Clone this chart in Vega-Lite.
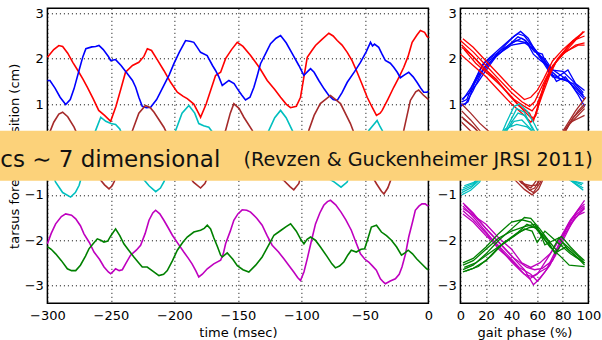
{
"$schema": "https://vega.github.io/schema/vega-lite/v6.json",
"autosize": {"type": "none"},
"padding": {"left": 47.4, "top": 8.3, "right": 554.6, "bottom": 331.7},
"background": "white",
"config": {
  "view": {"stroke": "#000", "strokeWidth": 1.5},
  "axis": {"domain": false, "ticks": false, "grid": true, "gridColor": "#000", "gridDash": [1, 3], "gridWidth": 1, "gridOpacity": 1,
    "labelFont": "DejaVu Sans", "labelFontSize": 13, "labelColor": "#000", "titleFont": "DejaVu Sans", "titleFontSize": 13, "titleFontWeight": "normal", "titleColor": "#000",
    "labelFlush": false, "labelOverlap": false, "labelBound": false},
  "axisX": {"labelPadding": 6, "titlePadding": 4.5},
  "axisY": {"labelPadding": 4, "titlePadding": 5}
},
"datasets": {
"L": [
{"c":"r","t":-300,"v":2.03},{"c":"r","t":-295,"v":2.2},{"c":"r","t":-291,"v":2.29},{"c":"r","t":-288,"v":2.27},{"c":"r","t":-284,"v":2.12},{"c":"r","t":-280,"v":1.92},{"c":"r","t":-276,"v":1.74},{"c":"r","t":-272,"v":1.55},{"c":"r","t":-268.5,"v":1.37},{"c":"r","t":-264,"v":1.12},{"c":"r","t":-259.6,"v":0.86},{"c":"r","t":-255,"v":0.75},{"c":"r","t":-250.2,"v":0.62},{"c":"r","t":-246,"v":0.95},{"c":"r","t":-242,"v":1.35},{"c":"r","t":-238.5,"v":1.7},{"c":"r","t":-233,"v":1.85},{"c":"r","t":-228,"v":1.92},{"c":"r","t":-224,"v":2.05},{"c":"r","t":-221.3,"v":2.22},{"c":"r","t":-218,"v":2.18},{"c":"r","t":-214,"v":2.0},{"c":"r","t":-208.3,"v":1.74},{"c":"r","t":-203,"v":1.48},{"c":"r","t":-197.7,"v":1.26},{"c":"r","t":-193,"v":1.17},{"c":"r","t":-189.9,"v":1.12},{"c":"r","t":-184.7,"v":1.0},{"c":"r","t":-181,"v":0.8},{"c":"r","t":-179.4,"v":0.71},{"c":"r","t":-175,"v":1.0},{"c":"r","t":-171.5,"v":1.3},{"c":"r","t":-167.6,"v":1.63},{"c":"r","t":-163.6,"v":1.7},{"c":"r","t":-159.7,"v":2.0},{"c":"r","t":-155,"v":2.2},{"c":"r","t":-150.5,"v":2.36},{"c":"r","t":-146,"v":2.27},{"c":"r","t":-140,"v":2.07},{"c":"r","t":-133,"v":1.8},{"c":"r","t":-126.9,"v":1.52},{"c":"r","t":-121,"v":1.32},{"c":"r","t":-116.4,"v":1.15},{"c":"r","t":-112,"v":1.0},{"c":"r","t":-108.6,"v":0.92},{"c":"r","t":-104,"v":0.95},{"c":"r","t":-100.7,"v":1.15},{"c":"r","t":-98,"v":1.6},{"c":"r","t":-95.4,"v":2.03},{"c":"r","t":-92,"v":2.17},{"c":"r","t":-88.9,"v":2.29},{"c":"r","t":-84,"v":2.42},{"c":"r","t":-78.4,"v":2.56},{"c":"r","t":-75,"v":2.5},{"c":"r","t":-71.8,"v":2.4},{"c":"r","t":-68,"v":2.3},{"c":"r","t":-63.9,"v":2.14},{"c":"r","t":-60,"v":1.95},{"c":"r","t":-56.1,"v":1.7},{"c":"r","t":-52,"v":1.42},{"c":"r","t":-48.2,"v":1.15},{"c":"r","t":-44.3,"v":0.93},{"c":"r","t":-40.9,"v":0.75},{"c":"r","t":-38,"v":0.8},{"c":"r","t":-36.4,"v":0.86},{"c":"r","t":-32,"v":1.1},{"c":"r","t":-27.3,"v":1.37},{"c":"r","t":-23,"v":1.6},{"c":"r","t":-19.4,"v":1.81},{"c":"r","t":-16,"v":2.05},{"c":"r","t":-12.8,"v":2.36},{"c":"r","t":-9,"v":2.52},{"c":"r","t":-6.3,"v":2.62},{"c":"r","t":-3,"v":2.58},{"c":"r","t":-1.1,"v":2.49},{"c":"r","t":0,"v":2.46},
{"c":"b","t":-300,"v":1.52},{"c":"b","t":-298,"v":1.52},{"c":"b","t":-294,"v":1.35},{"c":"b","t":-290,"v":1.15},{"c":"b","t":-285.6,"v":0.99},{"c":"b","t":-282,"v":1.1},{"c":"b","t":-279,"v":1.34},{"c":"b","t":-275,"v":1.75},{"c":"b","t":-272,"v":2.05},{"c":"b","t":-269.7,"v":2.22},{"c":"b","t":-265,"v":2.26},{"c":"b","t":-262,"v":2.27},{"c":"b","t":-259.4,"v":2.29},{"c":"b","t":-256,"v":2.2},{"c":"b","t":-252,"v":2.05},{"c":"b","t":-250.2,"v":1.96},{"c":"b","t":-246.3,"v":1.98},{"c":"b","t":-242,"v":1.85},{"c":"b","t":-237,"v":1.67},{"c":"b","t":-233,"v":1.52},{"c":"b","t":-230.5,"v":1.37},{"c":"b","t":-228,"v":1.15},{"c":"b","t":-225.3,"v":0.95},{"c":"b","t":-222,"v":0.92},{"c":"b","t":-218.7,"v":0.93},{"c":"b","t":-214,"v":1.1},{"c":"b","t":-208.3,"v":1.41},{"c":"b","t":-204,"v":1.65},{"c":"b","t":-200.4,"v":1.89},{"c":"b","t":-196,"v":2.15},{"c":"b","t":-191.2,"v":2.4},{"c":"b","t":-187,"v":2.38},{"c":"b","t":-184.7,"v":2.36},{"c":"b","t":-182,"v":2.25},{"c":"b","t":-179.4,"v":2.14},{"c":"b","t":-174.2,"v":2.07},{"c":"b","t":-170,"v":1.85},{"c":"b","t":-167.6,"v":1.74},{"c":"b","t":-165,"v":1.6},{"c":"b","t":-162.3,"v":1.41},{"c":"b","t":-157.1,"v":1.52},{"c":"b","t":-153,"v":1.45},{"c":"b","t":-150.5,"v":1.34},{"c":"b","t":-147,"v":1.2},{"c":"b","t":-144,"v":1.09},{"c":"b","t":-140.5,"v":1.15},{"c":"b","t":-137.4,"v":1.37},{"c":"b","t":-135,"v":1.6},{"c":"b","t":-132.2,"v":1.89},{"c":"b","t":-128,"v":2.12},{"c":"b","t":-124.3,"v":2.33},{"c":"b","t":-120,"v":2.45},{"c":"b","t":-116.4,"v":2.51},{"c":"b","t":-112,"v":2.35},{"c":"b","t":-107.2,"v":2.11},{"c":"b","t":-102,"v":1.85},{"c":"b","t":-98.1,"v":1.63},{"c":"b","t":-95,"v":1.72},{"c":"b","t":-92.8,"v":1.78},{"c":"b","t":-90,"v":1.7},{"c":"b","t":-86.3,"v":1.52},{"c":"b","t":-82,"v":1.33},{"c":"b","t":-78.4,"v":1.19},{"c":"b","t":-75,"v":1.1},{"c":"b","t":-71.8,"v":1.08},{"c":"b","t":-68,"v":1.25},{"c":"b","t":-63.9,"v":1.48},{"c":"b","t":-58,"v":1.72},{"c":"b","t":-53.5,"v":1.92},{"c":"b","t":-49,"v":2.15},{"c":"b","t":-45.6,"v":2.36},{"c":"b","t":-44,"v":2.28},{"c":"b","t":-42.5,"v":2.32},{"c":"b","t":-39.1,"v":2.25},{"c":"b","t":-36.5,"v":2.1},{"c":"b","t":-33.9,"v":1.96},{"c":"b","t":-30,"v":1.9},{"c":"b","t":-27.3,"v":1.81},{"c":"b","t":-24.5,"v":1.7},{"c":"b","t":-22.1,"v":1.58},{"c":"b","t":-18.5,"v":1.65},{"c":"b","t":-15.5,"v":1.7},{"c":"b","t":-12,"v":1.6},{"c":"b","t":-9,"v":1.48},{"c":"b","t":-6,"v":1.35},{"c":"b","t":-3.7,"v":1.26},{"c":"b","t":-1.1,"v":1.26},{"c":"b","t":0,"v":1.28},
{"c":"br","t":-300,"v":0.25},{"c":"br","t":-295,"v":0.6},{"c":"br","t":-291,"v":0.78},{"c":"br","t":-288,"v":0.82},{"c":"br","t":-284,"v":0.72},{"c":"br","t":-279,"v":0.49},{"c":"br","t":-272,"v":0.05},{"c":"br","t":-265,"v":-0.4},{"c":"br","t":-258,"v":-0.68},{"c":"br","t":-255,"v":-0.78},{"c":"br","t":-251.5,"v":-0.87},{"c":"br","t":-249,"v":-0.8},{"c":"br","t":-247.6,"v":-0.72},{"c":"br","t":-242,"v":-0.35},{"c":"br","t":-236,"v":0.15},{"c":"br","t":-233,"v":0.42},{"c":"br","t":-228,"v":0.8},{"c":"br","t":-222.8,"v":0.97},{"c":"br","t":-219,"v":0.92},{"c":"br","t":-216,"v":0.82},{"c":"br","t":-208.3,"v":0.49},{"c":"br","t":-200,"v":0.0},{"c":"br","t":-192,"v":-0.45},{"c":"br","t":-185,"v":-0.72},{"c":"br","t":-179.4,"v":-0.85},{"c":"br","t":-176,"v":-0.75},{"c":"br","t":-172,"v":-0.5},{"c":"br","t":-166,"v":-0.05},{"c":"br","t":-159.7,"v":0.42},{"c":"br","t":-156,"v":0.8},{"c":"br","t":-153.2,"v":1.01},{"c":"br","t":-149,"v":0.9},{"c":"br","t":-145.3,"v":0.71},{"c":"br","t":-138.7,"v":0.42},{"c":"br","t":-131,"v":-0.1},{"c":"br","t":-122,"v":-0.5},{"c":"br","t":-114,"v":-0.68},{"c":"br","t":-109,"v":-0.82},{"c":"br","t":-106,"v":-0.89},{"c":"br","t":-102,"v":-0.75},{"c":"br","t":-98,"v":-0.3},{"c":"br","t":-94.2,"v":0.42},{"c":"br","t":-90,"v":0.75},{"c":"br","t":-85.1,"v":1.01},{"c":"br","t":-77.1,"v":1.19},{"c":"br","t":-69.2,"v":1.01},{"c":"br","t":-61.4,"v":0.57},{"c":"br","t":-55,"v":0.1},{"c":"br","t":-48,"v":-0.4},{"c":"br","t":-41,"v":-0.75},{"c":"br","t":-37,"v":-0.92},{"c":"br","t":-35,"v":-0.98},{"c":"br","t":-32,"v":-0.85},{"c":"br","t":-28,"v":-0.55},{"c":"br","t":-24,"v":-0.1},{"c":"br","t":-19.4,"v":0.42},{"c":"br","t":-14.2,"v":1.08},{"c":"br","t":-10,"v":1.27},{"c":"br","t":-7.7,"v":1.31},{"c":"br","t":-4,"v":1.2},{"c":"br","t":0,"v":1.1},
{"c":"c","t":-300,"v":-0.3},{"c":"c","t":-296,"v":-0.55},{"c":"c","t":-293.5,"v":-0.72},{"c":"c","t":-288,"v":-0.95},{"c":"c","t":-281.7,"v":-1.05},{"c":"c","t":-278,"v":-0.95},{"c":"c","t":-275,"v":-0.79},{"c":"c","t":-270,"v":-0.3},{"c":"c","t":-265,"v":0.2},{"c":"c","t":-262,"v":0.42},{"c":"c","t":-258,"v":0.71},{"c":"c","t":-254,"v":0.62},{"c":"c","t":-250,"v":0.57},{"c":"c","t":-246.3,"v":0.55},{"c":"c","t":-243,"v":0.45},{"c":"c","t":-238,"v":0.1},{"c":"c","t":-232,"v":-0.3},{"c":"c","t":-226,"v":-0.6},{"c":"c","t":-220,"v":-0.8},{"c":"c","t":-214.7,"v":-0.93},{"c":"c","t":-211,"v":-0.85},{"c":"c","t":-208,"v":-0.7},{"c":"c","t":-203,"v":-0.1},{"c":"c","t":-199,"v":0.42},{"c":"c","t":-194,"v":0.8},{"c":"c","t":-188.6,"v":0.97},{"c":"c","t":-184,"v":0.8},{"c":"c","t":-180.8,"v":0.57},{"c":"c","t":-177,"v":0.52},{"c":"c","t":-172.9,"v":0.49},{"c":"c","t":-170,"v":0.38},{"c":"c","t":-164,"v":0.0},{"c":"c","t":-157,"v":-0.4},{"c":"c","t":-150,"v":-0.6},{"c":"c","t":-143,"v":-0.5},{"c":"c","t":-136,"v":-0.15},{"c":"c","t":-130,"v":0.2},{"c":"c","t":-125.6,"v":0.42},{"c":"c","t":-121,"v":0.7},{"c":"c","t":-116.4,"v":0.86},{"c":"c","t":-112,"v":0.7},{"c":"c","t":-107.2,"v":0.42},{"c":"c","t":-100,"v":-0.05},{"c":"c","t":-90,"v":-0.45},{"c":"c","t":-80,"v":-0.62},{"c":"c","t":-74,"v":-0.72},{"c":"c","t":-68.8,"v":-0.83},{"c":"c","t":-64,"v":-0.72},{"c":"c","t":-58,"v":-0.3},{"c":"c","t":-52,"v":0.1},{"c":"c","t":-46.9,"v":0.42},{"c":"c","t":-43,"v":0.55},{"c":"c","t":-40.4,"v":0.64},{"c":"c","t":-38,"v":0.5},{"c":"c","t":-36.4,"v":0.42},{"c":"c","t":-30,"v":0.0},{"c":"c","t":-20,"v":-0.4},{"c":"c","t":-10,"v":-0.6},{"c":"c","t":0,"v":-0.65},
{"c":"m","t":-300,"v":-2.08},{"c":"m","t":-297,"v":-1.85},{"c":"m","t":-293.5,"v":-1.64},{"c":"m","t":-289,"v":-1.48},{"c":"m","t":-285.6,"v":-1.42},{"c":"m","t":-281,"v":-1.45},{"c":"m","t":-277.7,"v":-1.53},{"c":"m","t":-274,"v":-1.68},{"c":"m","t":-271.2,"v":-1.86},{"c":"m","t":-267,"v":-2.05},{"c":"m","t":-263.3,"v":-2.26},{"c":"m","t":-259,"v":-2.42},{"c":"m","t":-255.4,"v":-2.59},{"c":"m","t":-252,"v":-2.7},{"c":"m","t":-250.2,"v":-2.74},{"c":"m","t":-248,"v":-2.68},{"c":"m","t":-246.3,"v":-2.63},{"c":"m","t":-243.5,"v":-2.67},{"c":"m","t":-241,"v":-2.65},{"c":"m","t":-238,"v":-2.5},{"c":"m","t":-234.5,"v":-2.33},{"c":"m","t":-230,"v":-2.22},{"c":"m","t":-226.6,"v":-2.11},{"c":"m","t":-223,"v":-1.85},{"c":"m","t":-220,"v":-1.56},{"c":"m","t":-217,"v":-1.4},{"c":"m","t":-214.8,"v":-1.34},{"c":"m","t":-211.5,"v":-1.42},{"c":"m","t":-208.3,"v":-1.56},{"c":"m","t":-205,"v":-1.72},{"c":"m","t":-201.6,"v":-1.89},{"c":"m","t":-197,"v":-2.08},{"c":"m","t":-192.6,"v":-2.26},{"c":"m","t":-189,"v":-2.4},{"c":"m","t":-186.1,"v":-2.52},{"c":"m","t":-183,"v":-2.68},{"c":"m","t":-180.8,"v":-2.81},{"c":"m","t":-178,"v":-2.75},{"c":"m","t":-174.1,"v":-2.63},{"c":"m","t":-169,"v":-2.52},{"c":"m","t":-163.6,"v":-2.44},{"c":"m","t":-161.5,"v":-2.3},{"c":"m","t":-159.7,"v":-2.08},{"c":"m","t":-156,"v":-1.8},{"c":"m","t":-153.2,"v":-1.56},{"c":"m","t":-150,"v":-1.42},{"c":"m","t":-146.6,"v":-1.33},{"c":"m","t":-143,"v":-1.34},{"c":"m","t":-140,"v":-1.38},{"c":"m","t":-135,"v":-1.52},{"c":"m","t":-130.9,"v":-1.67},{"c":"m","t":-127,"v":-1.9},{"c":"m","t":-123,"v":-2.11},{"c":"m","t":-118,"v":-2.26},{"c":"m","t":-113.8,"v":-2.41},{"c":"m","t":-110,"v":-2.55},{"c":"m","t":-106,"v":-2.7},{"c":"m","t":-103,"v":-2.82},{"c":"m","t":-100.7,"v":-2.89},{"c":"m","t":-98,"v":-2.7},{"c":"m","t":-95.4,"v":-2.41},{"c":"m","t":-92,"v":-2.0},{"c":"m","t":-88.9,"v":-1.64},{"c":"m","t":-85.5,"v":-1.4},{"c":"m","t":-82.4,"v":-1.23},{"c":"m","t":-79.5,"v":-1.15},{"c":"m","t":-77.1,"v":-1.12},{"c":"m","t":-73,"v":-1.22},{"c":"m","t":-68.8,"v":-1.38},{"c":"m","t":-65,"v":-1.55},{"c":"m","t":-60.7,"v":-1.78},{"c":"m","t":-57,"v":-2.05},{"c":"m","t":-53.5,"v":-2.3},{"c":"m","t":-50,"v":-2.42},{"c":"m","t":-47,"v":-2.48},{"c":"m","t":-44.3,"v":-2.56},{"c":"m","t":-41,"v":-2.66},{"c":"m","t":-37.8,"v":-2.85},{"c":"m","t":-35.5,"v":-2.92},{"c":"m","t":-33.9,"v":-2.96},{"c":"m","t":-30,"v":-2.9},{"c":"m","t":-26,"v":-2.85},{"c":"m","t":-23,"v":-2.75},{"c":"m","t":-20.8,"v":-2.59},{"c":"m","t":-18,"v":-2.3},{"c":"m","t":-15.5,"v":-1.93},{"c":"m","t":-12.5,"v":-1.6},{"c":"m","t":-10.3,"v":-1.34},{"c":"m","t":-7.5,"v":-1.25},{"c":"m","t":-5.1,"v":-1.2},{"c":"m","t":-2.5,"v":-1.2},{"c":"m","t":-1.1,"v":-1.23},{"c":"m","t":0,"v":-1.25},
{"c":"g","t":-300,"v":-2.14},{"c":"g","t":-297,"v":-2.2},{"c":"g","t":-293.5,"v":-2.3},{"c":"g","t":-289,"v":-2.45},{"c":"g","t":-284.3,"v":-2.63},{"c":"g","t":-281,"v":-2.67},{"c":"g","t":-277.7,"v":-2.67},{"c":"g","t":-274,"v":-2.55},{"c":"g","t":-270,"v":-2.35},{"c":"g","t":-267.3,"v":-2.19},{"c":"g","t":-264,"v":-2.08},{"c":"g","t":-260.7,"v":-1.97},{"c":"g","t":-258,"v":-2.0},{"c":"g","t":-255.5,"v":-2.04},{"c":"g","t":-252.5,"v":-2.02},{"c":"g","t":-250,"v":-1.9},{"c":"g","t":-246.3,"v":-1.75},{"c":"g","t":-243,"v":-1.9},{"c":"g","t":-239.8,"v":-2.08},{"c":"g","t":-236,"v":-2.22},{"c":"g","t":-231.9,"v":-2.37},{"c":"g","t":-228,"v":-2.5},{"c":"g","t":-225.3,"v":-2.59},{"c":"g","t":-221.4,"v":-2.59},{"c":"g","t":-217,"v":-2.68},{"c":"g","t":-212.2,"v":-2.78},{"c":"g","t":-208.5,"v":-2.75},{"c":"g","t":-205.6,"v":-2.67},{"c":"g","t":-201.5,"v":-2.45},{"c":"g","t":-197.7,"v":-2.22},{"c":"g","t":-193.5,"v":-2.05},{"c":"g","t":-189.9,"v":-1.93},{"c":"g","t":-184.7,"v":-1.82},{"c":"g","t":-179.4,"v":-1.78},{"c":"g","t":-176.5,"v":-1.74},{"c":"g","t":-174.1,"v":-1.67},{"c":"g","t":-171.5,"v":-1.75},{"c":"g","t":-168.9,"v":-1.95},{"c":"g","t":-166,"v":-2.15},{"c":"g","t":-163.6,"v":-2.33},{"c":"g","t":-162.3,"v":-2.37},{"c":"g","t":-158.4,"v":-2.28},{"c":"g","t":-154,"v":-2.42},{"c":"g","t":-150.5,"v":-2.56},{"c":"g","t":-146,"v":-2.65},{"c":"g","t":-141.4,"v":-2.7},{"c":"g","t":-136,"v":-2.55},{"c":"g","t":-130.9,"v":-2.37},{"c":"g","t":-126,"v":-2.12},{"c":"g","t":-121.6,"v":-1.89},{"c":"g","t":-116,"v":-1.78},{"c":"g","t":-112,"v":-1.7},{"c":"g","t":-108.5,"v":-1.64},{"c":"g","t":-104,"v":-1.8},{"c":"g","t":-100.5,"v":-1.98},{"c":"g","t":-98,"v":-2.08},{"c":"g","t":-95.5,"v":-1.98},{"c":"g","t":-92.8,"v":-1.93},{"c":"g","t":-89,"v":-2.0},{"c":"g","t":-85,"v":-2.15},{"c":"g","t":-80,"v":-2.35},{"c":"g","t":-76,"v":-2.52},{"c":"g","t":-73.2,"v":-2.61},{"c":"g","t":-70,"v":-2.57},{"c":"g","t":-66.6,"v":-2.48},{"c":"g","t":-63.5,"v":-2.33},{"c":"g","t":-60.7,"v":-2.22},{"c":"g","t":-56.8,"v":-2.26},{"c":"g","t":-53,"v":-2.2},{"c":"g","t":-50.2,"v":-2.19},{"c":"g","t":-47.5,"v":-1.95},{"c":"g","t":-44.9,"v":-1.71},{"c":"g","t":-40.9,"v":-1.67},{"c":"g","t":-37,"v":-1.82},{"c":"g","t":-33,"v":-1.9},{"c":"g","t":-29.1,"v":-2.0},{"c":"g","t":-25,"v":-2.15},{"c":"g","t":-21.2,"v":-2.33},{"c":"g","t":-18.5,"v":-2.28},{"c":"g","t":-15.9,"v":-2.22},{"c":"g","t":-12.5,"v":-2.3},{"c":"g","t":-9.3,"v":-2.41},{"c":"g","t":-5,"v":-2.53},{"c":"g","t":-1.4,"v":-2.63},{"c":"g","t":0,"v":-2.65}
],
"R": [
{"c":"b","s":1,"p":1,"v":1.05},{"c":"b","s":1,"p":5,"v":1.1},{"c":"b","s":1,"p":10,"v":1.45},{"c":"b","s":1,"p":15,"v":1.75},{"c":"b","s":1,"p":20,"v":1.95},{"c":"b","s":1,"p":30,"v":2.2},{"c":"b","s":1,"p":40,"v":2.45},{"c":"b","s":1,"p":45,"v":2.55},{"c":"b","s":1,"p":50,"v":2.5},{"c":"b","s":1,"p":60,"v":2.15},{"c":"b","s":1,"p":70,"v":1.8},{"c":"b","s":1,"p":80,"v":1.6},{"c":"b","s":1,"p":90,"v":1.35},{"c":"b","s":1,"p":97,"v":1.15},
{"c":"b","s":2,"p":0,"v":1.0},{"c":"b","s":2,"p":4,"v":1.0},{"c":"b","s":2,"p":10,"v":1.3},{"c":"b","s":2,"p":15,"v":1.6},{"c":"b","s":2,"p":20,"v":1.85},{"c":"b","s":2,"p":30,"v":2.1},{"c":"b","s":2,"p":40,"v":2.35},{"c":"b","s":2,"p":48,"v":2.45},{"c":"b","s":2,"p":55,"v":2.3},{"c":"b","s":2,"p":62,"v":2.05},{"c":"b","s":2,"p":70,"v":1.75},{"c":"b","s":2,"p":78,"v":1.55},{"c":"b","s":2,"p":85,"v":1.5},{"c":"b","s":2,"p":92,"v":1.2},{"c":"b","s":2,"p":97,"v":0.95},
{"c":"b","s":3,"p":2,"v":1.1},{"c":"b","s":3,"p":8,"v":1.35},{"c":"b","s":3,"p":14,"v":1.65},{"c":"b","s":3,"p":20,"v":1.8},{"c":"b","s":3,"p":30,"v":2.15},{"c":"b","s":3,"p":42,"v":2.5},{"c":"b","s":3,"p":47,"v":2.6},{"c":"b","s":3,"p":53,"v":2.45},{"c":"b","s":3,"p":60,"v":2.1},{"c":"b","s":3,"p":66,"v":2.0},{"c":"b","s":3,"p":72,"v":1.75},{"c":"b","s":3,"p":80,"v":1.72},{"c":"b","s":3,"p":88,"v":1.5},{"c":"b","s":3,"p":96,"v":1.25},
{"c":"b","s":4,"p":0,"v":0.95},{"c":"b","s":4,"p":6,"v":1.05},{"c":"b","s":4,"p":12,"v":1.55},{"c":"b","s":4,"p":18,"v":1.9},{"c":"b","s":4,"p":25,"v":2.05},{"c":"b","s":4,"p":35,"v":2.25},{"c":"b","s":4,"p":44,"v":2.4},{"c":"b","s":4,"p":52,"v":2.35},{"c":"b","s":4,"p":58,"v":2.15},{"c":"b","s":4,"p":64,"v":2.1},{"c":"b","s":4,"p":70,"v":1.65},{"c":"b","s":4,"p":76,"v":1.6},{"c":"b","s":4,"p":84,"v":1.75},{"c":"b","s":4,"p":90,"v":1.45},{"c":"b","s":4,"p":97,"v":1.3},
{"c":"b","s":5,"p":1,"v":1.1},{"c":"b","s":5,"p":7,"v":1.25},{"c":"b","s":5,"p":13,"v":1.45},{"c":"b","s":5,"p":20,"v":1.75},{"c":"b","s":5,"p":28,"v":2.05},{"c":"b","s":5,"p":38,"v":2.3},{"c":"b","s":5,"p":45,"v":2.48},{"c":"b","s":5,"p":51,"v":2.4},{"c":"b","s":5,"p":57,"v":2.1},{"c":"b","s":5,"p":63,"v":1.95},{"c":"b","s":5,"p":68,"v":1.85},{"c":"b","s":5,"p":75,"v":1.5},{"c":"b","s":5,"p":82,"v":1.6},{"c":"b","s":5,"p":90,"v":1.3},{"c":"b","s":5,"p":97,"v":1.1},
{"c":"b","s":6,"p":10,"v":1.4},{"c":"b","s":6,"p":15,"v":1.65},{"c":"b","s":6,"p":22,"v":1.95},{"c":"b","s":6,"p":32,"v":2.15},{"c":"b","s":6,"p":40,"v":2.3},{"c":"b","s":6,"p":50,"v":2.35},{"c":"b","s":6,"p":58,"v":2.2},{"c":"b","s":6,"p":65,"v":1.9},{"c":"b","s":6,"p":72,"v":1.6},{"c":"b","s":6,"p":80,"v":1.55},{"c":"b","s":6,"p":88,"v":1.45},{"c":"b","s":6,"p":96,"v":1.2},
{"c":"r","s":1,"p":2,"v":2.44},{"c":"r","s":1,"p":10,"v":2.25},{"c":"r","s":1,"p":20,"v":1.95},{"c":"r","s":1,"p":30,"v":1.65},{"c":"r","s":1,"p":40,"v":1.35},{"c":"r","s":1,"p":50,"v":1.1},{"c":"r","s":1,"p":55,"v":1.15},{"c":"r","s":1,"p":60,"v":1.3},{"c":"r","s":1,"p":65,"v":1.55},{"c":"r","s":1,"p":72,"v":1.95},{"c":"r","s":1,"p":80,"v":2.2},{"c":"r","s":1,"p":90,"v":2.45},{"c":"r","s":1,"p":97,"v":2.6},
{"c":"r","s":2,"p":1,"v":2.3},{"c":"r","s":2,"p":10,"v":2.05},{"c":"r","s":2,"p":20,"v":1.75},{"c":"r","s":2,"p":30,"v":1.45},{"c":"r","s":2,"p":40,"v":1.15},{"c":"r","s":2,"p":48,"v":0.9},{"c":"r","s":2,"p":55,"v":0.7},{"c":"r","s":2,"p":58,"v":0.72},{"c":"r","s":2,"p":64,"v":1.2},{"c":"r","s":2,"p":70,"v":1.65},{"c":"r","s":2,"p":76,"v":2.0},{"c":"r","s":2,"p":85,"v":2.3},{"c":"r","s":2,"p":95,"v":2.55},
{"c":"r","s":3,"p":0,"v":2.1},{"c":"r","s":3,"p":10,"v":1.85},{"c":"r","s":3,"p":20,"v":1.6},{"c":"r","s":3,"p":30,"v":1.3},{"c":"r","s":3,"p":40,"v":1.0},{"c":"r","s":3,"p":50,"v":0.75},{"c":"r","s":3,"p":55,"v":0.6},{"c":"r","s":3,"p":59,"v":0.75},{"c":"r","s":3,"p":65,"v":1.4},{"c":"r","s":3,"p":72,"v":1.85},{"c":"r","s":3,"p":80,"v":2.1},{"c":"r","s":3,"p":90,"v":2.3},{"c":"r","s":3,"p":97,"v":2.35},
{"c":"r","s":4,"p":1,"v":2.25},{"c":"r","s":4,"p":8,"v":2.1},{"c":"r","s":4,"p":18,"v":1.8},{"c":"r","s":4,"p":28,"v":1.55},{"c":"r","s":4,"p":38,"v":1.2},{"c":"r","s":4,"p":46,"v":0.95},{"c":"r","s":4,"p":54,"v":0.8},{"c":"r","s":4,"p":57,"v":0.62},{"c":"r","s":4,"p":61,"v":1.0},{"c":"r","s":4,"p":68,"v":1.6},{"c":"r","s":4,"p":75,"v":1.95},{"c":"r","s":4,"p":85,"v":2.25},{"c":"r","s":4,"p":96,"v":2.6},
{"c":"r","s":5,"p":3,"v":2.2},{"c":"r","s":5,"p":12,"v":1.9},{"c":"r","s":5,"p":22,"v":1.65},{"c":"r","s":5,"p":32,"v":1.4},{"c":"r","s":5,"p":42,"v":1.1},{"c":"r","s":5,"p":50,"v":0.95},{"c":"r","s":5,"p":56,"v":0.85},{"c":"r","s":5,"p":60,"v":1.0},{"c":"r","s":5,"p":66,"v":1.45},{"c":"r","s":5,"p":74,"v":1.9},{"c":"r","s":5,"p":82,"v":2.15},{"c":"r","s":5,"p":92,"v":2.3},{"c":"r","s":5,"p":97,"v":2.3},
{"c":"r","s":6,"p":0,"v":2.4},{"c":"r","s":6,"p":10,"v":2.15},{"c":"r","s":6,"p":20,"v":1.85},{"c":"r","s":6,"p":30,"v":1.55},{"c":"r","s":6,"p":40,"v":1.25},{"c":"r","s":6,"p":48,"v":1.05},{"c":"r","s":6,"p":54,"v":0.95},{"c":"r","s":6,"p":58,"v":1.05},{"c":"r","s":6,"p":63,"v":1.35},{"c":"r","s":6,"p":70,"v":1.75},{"c":"r","s":6,"p":78,"v":2.05},{"c":"r","s":6,"p":88,"v":2.4},{"c":"r","s":6,"p":97,"v":2.5},
{"c":"br","s":1,"p":1,"v":1.0},{"c":"br","s":1,"p":8,"v":0.8},{"c":"br","s":1,"p":15,"v":0.58},{"c":"br","s":1,"p":22,"v":0.4},{"c":"br","s":1,"p":30,"v":0.1},{"c":"br","s":1,"p":40,"v":-0.35},{"c":"br","s":1,"p":48,"v":-0.7},{"c":"br","s":1,"p":54,"v":-0.9},{"c":"br","s":1,"p":58,"v":-0.85},{"c":"br","s":1,"p":65,"v":-0.5},{"c":"br","s":1,"p":72,"v":-0.05},{"c":"br","s":1,"p":80,"v":0.4},{"c":"br","s":1,"p":90,"v":0.85},{"c":"br","s":1,"p":98,"v":1.15},
{"c":"br","s":2,"p":1,"v":0.85},{"c":"br","s":2,"p":8,"v":0.65},{"c":"br","s":2,"p":15,"v":0.42},{"c":"br","s":2,"p":25,"v":0.1},{"c":"br","s":2,"p":35,"v":-0.25},{"c":"br","s":2,"p":45,"v":-0.65},{"c":"br","s":2,"p":52,"v":-0.85},{"c":"br","s":2,"p":57,"v":-0.95},{"c":"br","s":2,"p":62,"v":-0.75},{"c":"br","s":2,"p":70,"v":-0.25},{"c":"br","s":2,"p":78,"v":0.2},{"c":"br","s":2,"p":88,"v":0.7},{"c":"br","s":2,"p":97,"v":0.95},
{"c":"br","s":3,"p":1,"v":0.72},{"c":"br","s":3,"p":10,"v":0.5},{"c":"br","s":3,"p":20,"v":0.2},{"c":"br","s":3,"p":30,"v":-0.1},{"c":"br","s":3,"p":40,"v":-0.5},{"c":"br","s":3,"p":48,"v":-0.75},{"c":"br","s":3,"p":55,"v":-0.8},{"c":"br","s":3,"p":60,"v":-0.78},{"c":"br","s":3,"p":67,"v":-0.4},{"c":"br","s":3,"p":75,"v":0.05},{"c":"br","s":3,"p":85,"v":0.55},{"c":"br","s":3,"p":97,"v":0.9},
{"c":"br","s":4,"p":1,"v":0.6},{"c":"br","s":4,"p":10,"v":0.35},{"c":"br","s":4,"p":20,"v":0.05},{"c":"br","s":4,"p":30,"v":-0.25},{"c":"br","s":4,"p":40,"v":-0.6},{"c":"br","s":4,"p":50,"v":-0.88},{"c":"br","s":4,"p":56,"v":-1.0},{"c":"br","s":4,"p":61,"v":-0.88},{"c":"br","s":4,"p":68,"v":-0.45},{"c":"br","s":4,"p":76,"v":0.15},{"c":"br","s":4,"p":86,"v":0.6},{"c":"br","s":4,"p":97,"v":0.75},
{"c":"br","s":5,"p":2,"v":0.68},{"c":"br","s":5,"p":12,"v":0.45},{"c":"br","s":5,"p":22,"v":0.12},{"c":"br","s":5,"p":32,"v":-0.2},{"c":"br","s":5,"p":42,"v":-0.55},{"c":"br","s":5,"p":50,"v":-0.78},{"c":"br","s":5,"p":55,"v":-0.85},{"c":"br","s":5,"p":59,"v":-0.7},{"c":"br","s":5,"p":66,"v":-0.35},{"c":"br","s":5,"p":74,"v":0.05},{"c":"br","s":5,"p":82,"v":0.45},{"c":"br","s":5,"p":92,"v":0.85},{"c":"br","s":5,"p":97,"v":1.0},
{"c":"c","s":1,"p":1,"v":-1.0},{"c":"c","s":1,"p":8,"v":-0.9},{"c":"c","s":1,"p":15,"v":-0.72},{"c":"c","s":1,"p":22,"v":-0.3},{"c":"c","s":1,"p":30,"v":0.2},{"c":"c","s":1,"p":36,"v":0.6},{"c":"c","s":1,"p":42,"v":0.95},{"c":"c","s":1,"p":46,"v":1.0},{"c":"c","s":1,"p":52,"v":0.85},{"c":"c","s":1,"p":58,"v":0.55},{"c":"c","s":1,"p":64,"v":0.2},{"c":"c","s":1,"p":72,"v":-0.25},{"c":"c","s":1,"p":80,"v":-0.55},{"c":"c","s":1,"p":88,"v":-0.72},{"c":"c","s":1,"p":96,"v":-0.9},
{"c":"c","s":2,"p":1,"v":-0.95},{"c":"c","s":2,"p":8,"v":-0.85},{"c":"c","s":2,"p":16,"v":-0.65},{"c":"c","s":2,"p":24,"v":-0.25},{"c":"c","s":2,"p":32,"v":0.2},{"c":"c","s":2,"p":40,"v":0.6},{"c":"c","s":2,"p":45,"v":0.8},{"c":"c","s":2,"p":50,"v":0.75},{"c":"c","s":2,"p":56,"v":0.5},{"c":"c","s":2,"p":62,"v":0.2},{"c":"c","s":2,"p":70,"v":-0.2},{"c":"c","s":2,"p":80,"v":-0.5},{"c":"c","s":2,"p":90,"v":-0.75},{"c":"c","s":2,"p":96,"v":-0.85},
{"c":"c","s":3,"p":2,"v":-0.85},{"c":"c","s":3,"p":10,"v":-0.75},{"c":"c","s":3,"p":18,"v":-0.5},{"c":"c","s":3,"p":26,"v":-0.05},{"c":"c","s":3,"p":34,"v":0.35},{"c":"c","s":3,"p":42,"v":0.62},{"c":"c","s":3,"p":48,"v":0.65},{"c":"c","s":3,"p":55,"v":0.45},{"c":"c","s":3,"p":62,"v":0.1},{"c":"c","s":3,"p":70,"v":-0.25},{"c":"c","s":3,"p":80,"v":-0.55},{"c":"c","s":3,"p":88,"v":-0.7},{"c":"c","s":3,"p":95,"v":-0.78},
{"c":"c","s":4,"p":1,"v":-0.9},{"c":"c","s":4,"p":9,"v":-0.8},{"c":"c","s":4,"p":17,"v":-0.6},{"c":"c","s":4,"p":25,"v":-0.15},{"c":"c","s":4,"p":33,"v":0.3},{"c":"c","s":4,"p":40,"v":0.68},{"c":"c","s":4,"p":44,"v":0.9},{"c":"c","s":4,"p":50,"v":0.82},{"c":"c","s":4,"p":57,"v":0.4},{"c":"c","s":4,"p":63,"v":0.1},{"c":"c","s":4,"p":72,"v":-0.3},{"c":"c","s":4,"p":82,"v":-0.6},{"c":"c","s":4,"p":92,"v":-0.8},
{"c":"c","s":5,"p":3,"v":-0.8},{"c":"c","s":5,"p":11,"v":-0.72},{"c":"c","s":5,"p":19,"v":-0.45},{"c":"c","s":5,"p":27,"v":0.1},{"c":"c","s":5,"p":35,"v":0.45},{"c":"c","s":5,"p":44,"v":0.55},{"c":"c","s":5,"p":52,"v":0.5},{"c":"c","s":5,"p":60,"v":0.3},{"c":"c","s":5,"p":67,"v":0.0},{"c":"c","s":5,"p":76,"v":-0.4},{"c":"c","s":5,"p":86,"v":-0.68},{"c":"c","s":5,"p":96,"v":-0.75},
{"c":"m","s":1,"p":2,"v":-1.18},{"c":"m","s":1,"p":10,"v":-1.4},{"c":"m","s":1,"p":20,"v":-1.75},{"c":"m","s":1,"p":30,"v":-2.05},{"c":"m","s":1,"p":40,"v":-2.35},{"c":"m","s":1,"p":50,"v":-2.65},{"c":"m","s":1,"p":57,"v":-2.98},{"c":"m","s":1,"p":62,"v":-2.85},{"c":"m","s":1,"p":70,"v":-2.55},{"c":"m","s":1,"p":76,"v":-2.2},{"c":"m","s":1,"p":82,"v":-1.8},{"c":"m","s":1,"p":90,"v":-1.4},{"c":"m","s":1,"p":97,"v":-1.12},
{"c":"m","s":2,"p":2,"v":-1.3},{"c":"m","s":2,"p":10,"v":-1.45},{"c":"m","s":2,"p":20,"v":-1.65},{"c":"m","s":2,"p":30,"v":-1.95},{"c":"m","s":2,"p":40,"v":-2.2},{"c":"m","s":2,"p":48,"v":-2.5},{"c":"m","s":2,"p":55,"v":-2.6},{"c":"m","s":2,"p":62,"v":-2.5},{"c":"m","s":2,"p":70,"v":-2.3},{"c":"m","s":2,"p":78,"v":-1.95},{"c":"m","s":2,"p":85,"v":-1.6},{"c":"m","s":2,"p":92,"v":-1.35},{"c":"m","s":2,"p":97,"v":-1.25},
{"c":"m","s":3,"p":2,"v":-1.35},{"c":"m","s":3,"p":10,"v":-1.55},{"c":"m","s":3,"p":20,"v":-1.85},{"c":"m","s":3,"p":30,"v":-2.2},{"c":"m","s":3,"p":40,"v":-2.45},{"c":"m","s":3,"p":50,"v":-2.75},{"c":"m","s":3,"p":56,"v":-2.8},{"c":"m","s":3,"p":62,"v":-2.7},{"c":"m","s":3,"p":68,"v":-2.6},{"c":"m","s":3,"p":75,"v":-2.2},{"c":"m","s":3,"p":82,"v":-1.85},{"c":"m","s":3,"p":90,"v":-1.5},{"c":"m","s":3,"p":97,"v":-1.3},
{"c":"m","s":4,"p":2,"v":-1.42},{"c":"m","s":4,"p":10,"v":-1.6},{"c":"m","s":4,"p":20,"v":-1.9},{"c":"m","s":4,"p":30,"v":-2.15},{"c":"m","s":4,"p":40,"v":-2.48},{"c":"m","s":4,"p":48,"v":-2.7},{"c":"m","s":4,"p":54,"v":-2.85},{"c":"m","s":4,"p":60,"v":-2.75},{"c":"m","s":4,"p":68,"v":-2.4},{"c":"m","s":4,"p":76,"v":-2.05},{"c":"m","s":4,"p":84,"v":-1.7},{"c":"m","s":4,"p":92,"v":-1.45},{"c":"m","s":4,"p":97,"v":-1.38},
{"c":"m","s":5,"p":3,"v":-1.22},{"c":"m","s":5,"p":12,"v":-1.5},{"c":"m","s":5,"p":22,"v":-1.8},{"c":"m","s":5,"p":32,"v":-2.1},{"c":"m","s":5,"p":42,"v":-2.4},{"c":"m","s":5,"p":52,"v":-2.6},{"c":"m","s":5,"p":58,"v":-2.65},{"c":"m","s":5,"p":64,"v":-2.62},{"c":"m","s":5,"p":72,"v":-2.45},{"c":"m","s":5,"p":78,"v":-2.0},{"c":"m","s":5,"p":86,"v":-1.55},{"c":"m","s":5,"p":93,"v":-1.3},{"c":"m","s":5,"p":97,"v":-1.2},
{"c":"m","s":6,"p":2,"v":-1.25},{"c":"m","s":6,"p":12,"v":-1.55},{"c":"m","s":6,"p":24,"v":-1.95},{"c":"m","s":6,"p":36,"v":-2.3},{"c":"m","s":6,"p":46,"v":-2.6},{"c":"m","s":6,"p":55,"v":-2.75},{"c":"m","s":6,"p":60,"v":-2.9},{"c":"m","s":6,"p":66,"v":-2.7},{"c":"m","s":6,"p":74,"v":-2.35},{"c":"m","s":6,"p":82,"v":-1.9},{"c":"m","s":6,"p":90,"v":-1.45},{"c":"m","s":6,"p":97,"v":-1.28},
{"c":"g","s":1,"p":2,"v":-2.65},{"c":"g","s":1,"p":10,"v":-2.55},{"c":"g","s":1,"p":20,"v":-2.3},{"c":"g","s":1,"p":30,"v":-2.0},{"c":"g","s":1,"p":40,"v":-1.75},{"c":"g","s":1,"p":50,"v":-1.5},{"c":"g","s":1,"p":55,"v":-1.52},{"c":"g","s":1,"p":62,"v":-1.75},{"c":"g","s":1,"p":70,"v":-2.05},{"c":"g","s":1,"p":76,"v":-2.25},{"c":"g","s":1,"p":82,"v":-2.15},{"c":"g","s":1,"p":90,"v":-2.35},{"c":"g","s":1,"p":97,"v":-2.5},
{"c":"g","s":2,"p":2,"v":-2.55},{"c":"g","s":2,"p":10,"v":-2.45},{"c":"g","s":2,"p":20,"v":-2.2},{"c":"g","s":2,"p":30,"v":-1.95},{"c":"g","s":2,"p":40,"v":-1.8},{"c":"g","s":2,"p":50,"v":-1.7},{"c":"g","s":2,"p":58,"v":-1.65},{"c":"g","s":2,"p":65,"v":-1.95},{"c":"g","s":2,"p":72,"v":-2.2},{"c":"g","s":2,"p":77,"v":-1.95},{"c":"g","s":2,"p":84,"v":-2.2},{"c":"g","s":2,"p":92,"v":-2.4},{"c":"g","s":2,"p":97,"v":-2.55},
{"c":"g","s":3,"p":2,"v":-2.7},{"c":"g","s":3,"p":10,"v":-2.62},{"c":"g","s":3,"p":20,"v":-2.45},{"c":"g","s":3,"p":30,"v":-2.15},{"c":"g","s":3,"p":40,"v":-1.95},{"c":"g","s":3,"p":50,"v":-1.75},{"c":"g","s":3,"p":56,"v":-1.8},{"c":"g","s":3,"p":60,"v":-2.05},{"c":"g","s":3,"p":66,"v":-1.8},{"c":"g","s":3,"p":72,"v":-1.95},{"c":"g","s":3,"p":78,"v":-2.1},{"c":"g","s":3,"p":86,"v":-2.3},{"c":"g","s":3,"p":97,"v":-2.5},
{"c":"g","s":4,"p":3,"v":-2.6},{"c":"g","s":4,"p":12,"v":-2.5},{"c":"g","s":4,"p":22,"v":-2.3},{"c":"g","s":4,"p":32,"v":-2.1},{"c":"g","s":4,"p":42,"v":-1.9},{"c":"g","s":4,"p":52,"v":-1.65},{"c":"g","s":4,"p":60,"v":-1.75},{"c":"g","s":4,"p":68,"v":-2.0},{"c":"g","s":4,"p":74,"v":-2.3},{"c":"g","s":4,"p":80,"v":-2.05},{"c":"g","s":4,"p":88,"v":-2.25},{"c":"g","s":4,"p":96,"v":-2.45},
{"c":"g","s":5,"p":2,"v":-2.5},{"c":"g","s":5,"p":10,"v":-2.4},{"c":"g","s":5,"p":20,"v":-2.15},{"c":"g","s":5,"p":30,"v":-1.85},{"c":"g","s":5,"p":40,"v":-1.6},{"c":"g","s":5,"p":48,"v":-1.55},{"c":"g","s":5,"p":55,"v":-1.6},{"c":"g","s":5,"p":62,"v":-1.85},{"c":"g","s":5,"p":70,"v":-2.15},{"c":"g","s":5,"p":78,"v":-2.35},{"c":"g","s":5,"p":85,"v":-2.55},{"c":"g","s":5,"p":97,"v":-2.58},
{"c":"g","s":6,"p":4,"v":-2.68},{"c":"g","s":6,"p":14,"v":-2.58},{"c":"g","s":6,"p":24,"v":-2.35},{"c":"g","s":6,"p":34,"v":-2.05},{"c":"g","s":6,"p":44,"v":-1.85},{"c":"g","s":6,"p":54,"v":-1.72},{"c":"g","s":6,"p":60,"v":-1.7},{"c":"g","s":6,"p":66,"v":-2.1},{"c":"g","s":6,"p":73,"v":-2.0},{"c":"g","s":6,"p":79,"v":-1.92},{"c":"g","s":6,"p":86,"v":-2.15},{"c":"g","s":6,"p":93,"v":-2.35},{"c":"g","s":6,"p":97,"v":-2.45}
],
"BANNER": [{"x1": -359.7, "x2": 110.6, "y1": 0.41, "y2": -0.69}],
"T1": [{"x": -359.5, "y": -0.38, "label": "cs ∼ 7 dimensional"}],
"T2": [{"x": -169.5, "y": -0.36, "label": "(Revzen & Guckenheimer JRSI 2011)"}]
},
"spacing": 32,
"bounds": "flush",
"hconcat": [
  {
    "width": 381, "height": 295,
    "data": {"name": "L"},
    "mark": {"type": "line", "strokeWidth": 1.6},
    "encoding": {
      "x": {"field": "t", "type": "quantitative", "scale": {"domain": [-300, 0], "nice": false, "zero": false},
            "axis": {"values": [-300, -250, -200, -150, -100, -50, 0], "title": "time (msec)", "labelOverlap": false, "labelFlush": false}},
      "y": {"field": "v", "type": "quantitative", "scale": {"domain": [-3.39, 3.11], "nice": false, "zero": false},
            "axis": {"values": [-3, -2, -1, 1, 2, 3], "title": "tarsus forefoot position (cm)", "labelOverlap": false, "titleX": -29, "titleBaseline": "alphabetic"}},
      "color": {"field": "c", "type": "nominal", "legend": null,
                "scale": {"domain": ["r", "b", "br", "c", "m", "g"], "range": ["#ff0000", "#0000ff", "#a52a2a", "#00bfbf", "#bf00bf", "#008000"]}}
    }
  },
  {
    "width": 128, "height": 295,
    "layer": [
      {
        "data": {"name": "R"},
        "mark": {"type": "line", "strokeWidth": 1.3},
        "encoding": {
          "x": {"field": "p", "type": "quantitative", "scale": {"domain": [0, 100], "nice": false, "zero": false},
                "axis": {"values": [0, 20, 40, 60, 80, 100], "title": "gait phase (%)", "labelOverlap": false, "labelFlush": false}},
          "y": {"field": "v", "type": "quantitative", "scale": {"domain": [-3.39, 3.11], "nice": false, "zero": false},
                "axis": {"values": [-3, -2, -1, 1, 2, 3], "title": null, "labelOverlap": false}},
          "color": {"field": "c", "type": "nominal", "legend": null,
                    "scale": {"domain": ["r", "b", "br", "c", "m", "g"], "range": ["#ff0000", "#0000ff", "#a52a2a", "#00bfbf", "#bf00bf", "#008000"]}},
          "detail": {"field": "s", "type": "nominal"}
        }
      },
      {
        "data": {"name": "BANNER"},
        "mark": {"type": "rect", "color": "#fcd27a", "opacity": 1},
        "encoding": {
          "x": {"field": "x1", "type": "quantitative", "scale": {"domain": [0, 100], "nice": false, "zero": false},
                "axis": {"values": [0, 20, 40, 60, 80, 100], "title": "gait phase (%)", "labelOverlap": false, "labelFlush": false}},
          "x2": {"field": "x2"},
          "y": {"field": "y1", "type": "quantitative", "scale": {"domain": [-3.39, 3.11], "nice": false, "zero": false},
                "axis": {"values": [-3, -2, -1, 1, 2, 3], "title": null, "labelOverlap": false}},
          "y2": {"field": "y2"}
        }
      },
      {
        "data": {"name": "T1"},
        "mark": {"type": "text", "align": "left", "baseline": "alphabetic", "font": "DejaVu Sans", "fontSize": 23, "color": "#111"},
        "encoding": {
          "x": {"field": "x", "type": "quantitative", "scale": {"domain": [0, 100], "nice": false, "zero": false},
                "axis": {"values": [0, 20, 40, 60, 80, 100], "title": "gait phase (%)", "labelOverlap": false, "labelFlush": false}},
          "y": {"field": "y", "type": "quantitative", "scale": {"domain": [-3.39, 3.11], "nice": false, "zero": false},
                "axis": {"values": [-3, -2, -1, 1, 2, 3], "title": null, "labelOverlap": false}},
          "text": {"field": "label"}
        }
      },
      {
        "data": {"name": "T2"},
        "mark": {"type": "text", "align": "left", "baseline": "alphabetic", "font": "DejaVu Sans", "fontSize": 19.2, "color": "#111"},
        "encoding": {
          "x": {"field": "x", "type": "quantitative", "scale": {"domain": [0, 100], "nice": false, "zero": false},
                "axis": {"values": [0, 20, 40, 60, 80, 100], "title": "gait phase (%)", "labelOverlap": false, "labelFlush": false}},
          "y": {"field": "y", "type": "quantitative", "scale": {"domain": [-3.39, 3.11], "nice": false, "zero": false},
                "axis": {"values": [-3, -2, -1, 1, 2, 3], "title": null, "labelOverlap": false}},
          "text": {"field": "label"}
        }
      }
    ]
  }
]
}
